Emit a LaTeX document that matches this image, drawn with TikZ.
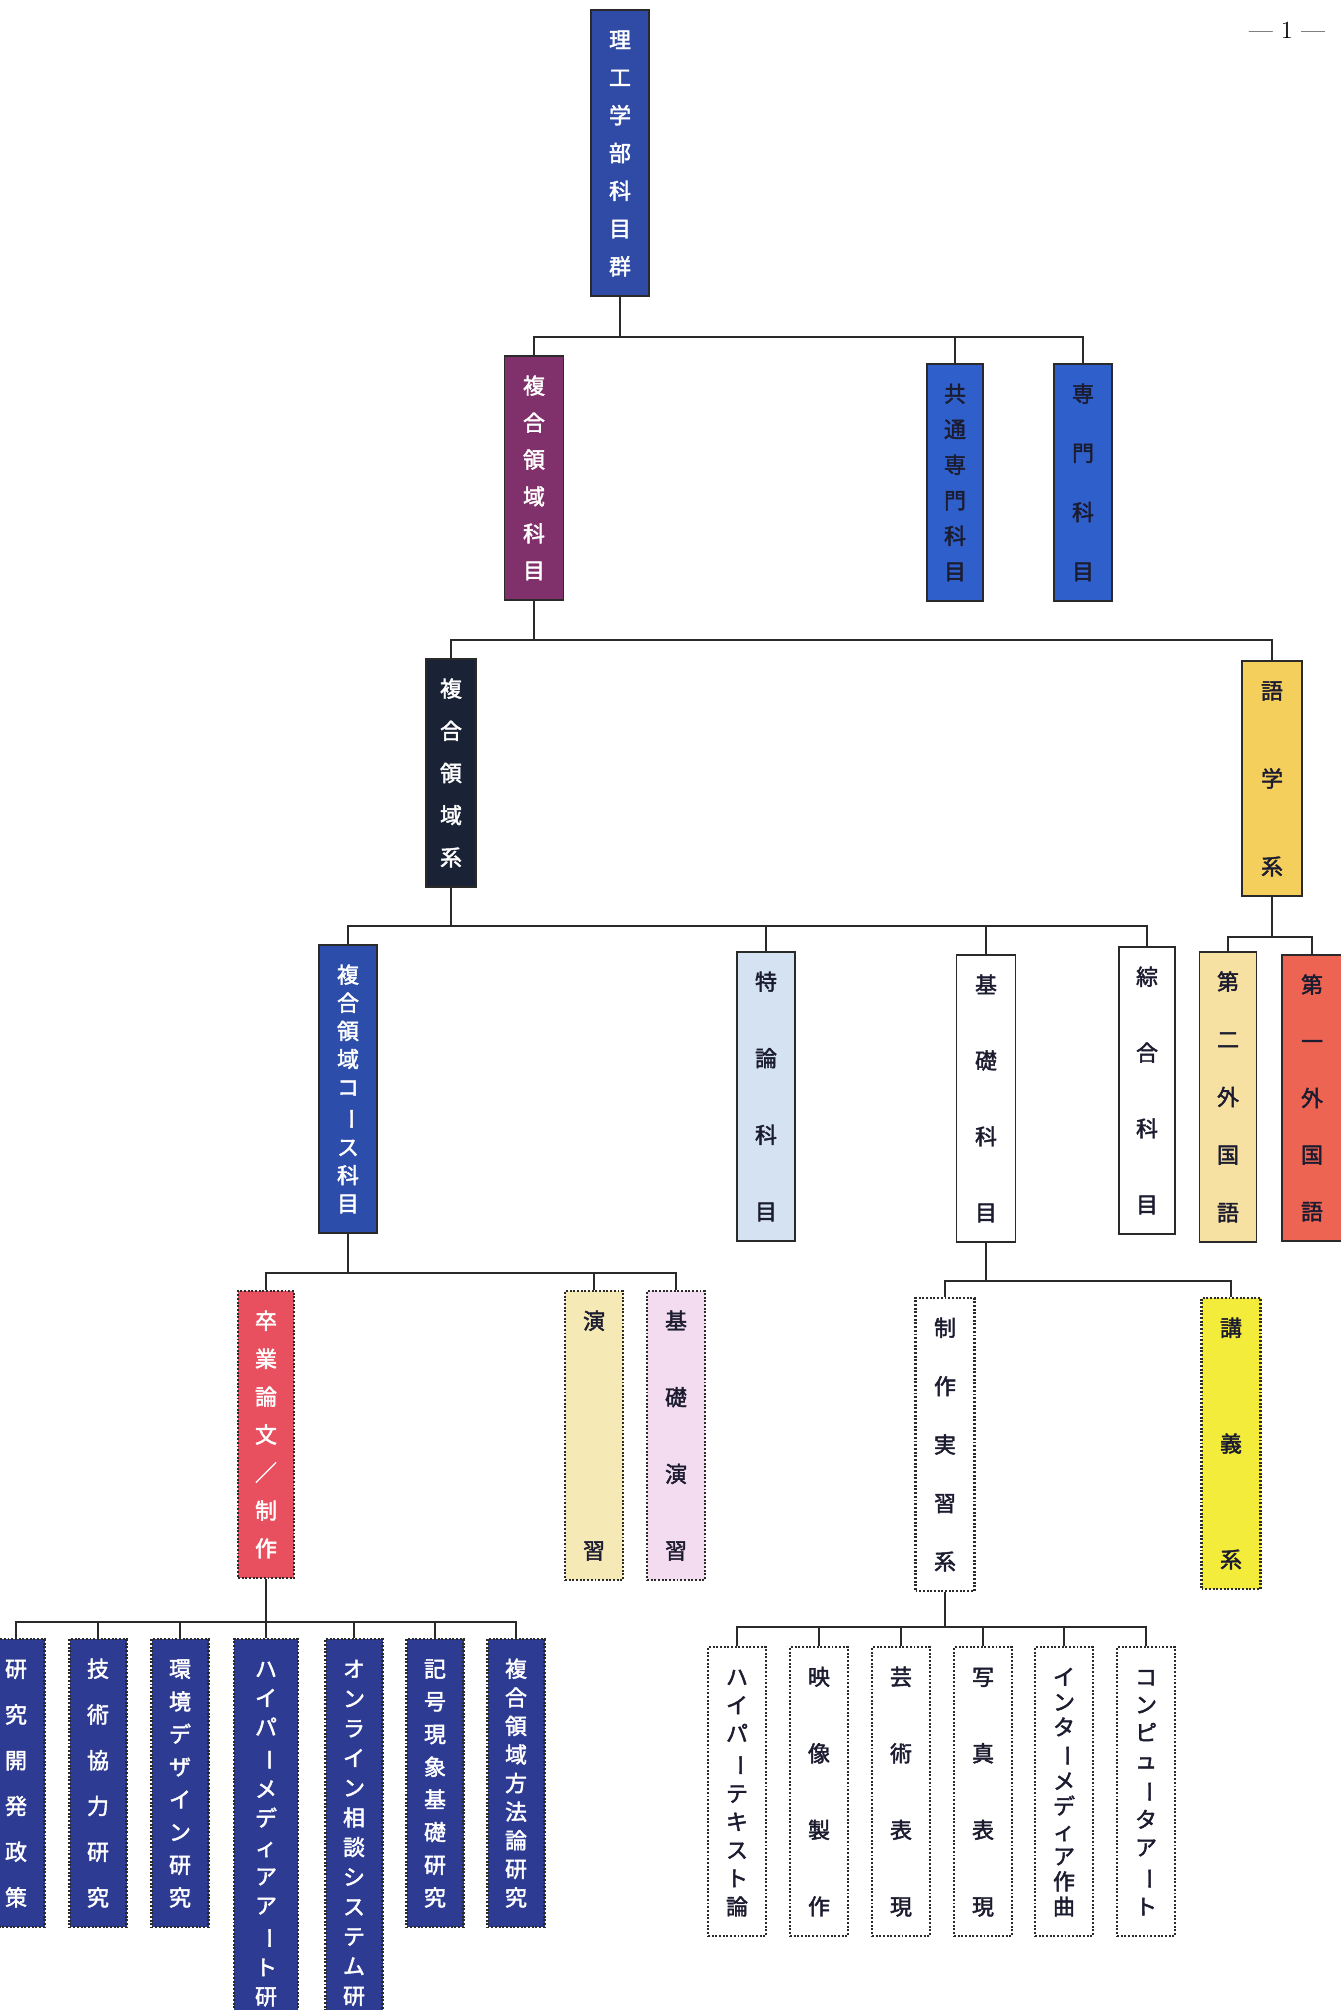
\documentclass[tikz,border=0pt]{standalone}
\usepackage{fontspec}
\usepackage{graphicx}
\usetikzlibrary{calc}
\newfontfamily\jp[FakeBold=2]{Noto Sans CJK JP}
\definecolor{rootblue}{HTML}{2F4BA6}
\definecolor{mauve}{HTML}{80306A}
\definecolor{midblue}{HTML}{2F5FCB}
\definecolor{nightblue}{HTML}{1A2236}
\definecolor{amber}{HTML}{F5CF5C}
\definecolor{courseblue}{HTML}{2C4DAA}
\definecolor{paleblue}{HTML}{D5E2F2}
\definecolor{cream}{HTML}{F7E1A2}
\definecolor{salmon}{HTML}{EE6453}
\definecolor{rosered}{HTML}{E8505F}
\definecolor{sand}{HTML}{F5E9B5}
\definecolor{blush}{HTML}{F3DCEF}
\definecolor{lemon}{HTML}{F3EC3A}
\definecolor{deepblue}{HTML}{2D3B93}
\definecolor{ink}{HTML}{1C1C30}
\definecolor{lineink}{HTML}{2A2A2A}
% one picture pixel, and the gap above the first glyph of a column
\newdimen\pxlen \pxlen=0.02cm
\newdimen\padlen \padlen=20\pxlen
% vertical column of upright glyphs, spread over the box
\newcommand\stackglyph[1]{\ifx#1ー\rotatebox[origin=c]{-90}{ー}\else#1\fi}
\def\stackchars#1#2\stackend{%
  \hbox to 1.2em{\vrule height .88em depth .12em width 0pt\hss\stackglyph{#1}\hss}%
  \ifx\relax#2\relax\else\vfill\stackchars#2\stackend\fi}
\newcommand\vstack[1]{\vbox to \dimexpr\cellh\pxlen-2\padlen\relax{\offinterlineskip\stackchars#1\stackend}}
\tikzset{
  cell/.style={rectangle, draw=lineink, line width=1.1pt, inner sep=0pt, anchor=north,
               minimum width=58*0.02cm, font=\jp\fontsize{12.5pt}{14pt}\selectfont},
  dotcell/.style={cell, densely dotted, line width=1.2pt},
  boxh/.code={\def\cellh{#1}\pgfkeysalso{minimum height=#1*0.02cm}},
  boxw/.style={minimum width=#1*0.02cm},
  link/.style={draw=lineink, line width=1.2pt},
  pagenum/.style={font=\fontsize{14pt}{16pt}\selectfont, text=black},
}

\begin{document}
\begin{tikzpicture}[x=0.02cm, y=-0.02cm]
\useasboundingbox (0,0) rectangle (1341,2010);
\clip (0,0) rectangle (1341,2010);
\fill[white] (0,0) rectangle (1341,2010);

% Page number
\node[pagenum] (pnum) at (1287,30) {— 1 —};

% Root
\node[cell, boxh=286, fill=rootblue, text=white] (root) at (620,9) {\vstack{理工学部科目群}};

% Level 1
\node[cell, boxh=244, boxw=59, fill=mauve, text=white] (fkamoku) at (534,355) {\vstack{複合領域科目}};
\node[cell, boxh=237, boxw=56, fill=midblue, text=ink] (kyotsu) at (955,363) {\vstack{共通専門科目}};
\node[cell, boxh=237, fill=midblue, text=ink] (senmon) at (1083,363) {\vstack{専門科目}};

% Level 2
\node[cell, boxh=228, boxw=50, fill=nightblue, text=white] (fkei) at (451,658) {\vstack{複合領域系}};
\node[cell, boxh=235, boxw=60, fill=amber, text=ink] (gogaku) at (1272,660) {\vstack{語学系}};

% Level 3: under the compound field
\node[cell, boxh=288, fill=courseblue, text=white] (course) at (348,944) {\vstack{複合領域コース科目}};
\node[cell, boxh=289, fill=paleblue, text=ink] (tokuron) at (766,951) {\vstack{特論科目}};
\node[cell, boxh=287, boxw=59, fill=white, text=ink] (kiso) at (986,954) {\vstack{基礎科目}};
\node[cell, boxh=287, boxw=56, fill=white, text=ink] (sogo) at (1147,946) {\vstack{綜合科目}};

% Level 3: under languages
\node[cell, boxh=290, boxw=57, fill=cream, text=ink] (dai2) at (1228,951) {\vstack{第二外国語}};
\node[cell, boxh=286, boxw=60, fill=salmon, text=ink] (dai1) at (1312,954) {\vstack{第一外国語}};

% Level 4 (dotted)
\node[dotcell, boxh=287, boxw=56, fill=rosered, text=white] (sotsu) at (266,1290) {\vstack{卒業論文／制作}};
\node[dotcell, boxh=289, fill=sand, text=ink] (enshu) at (594,1290) {\vstack{演習}};
\node[dotcell, boxh=289, fill=blush, text=ink] (kisoen) at (676,1290) {\vstack{基礎演習}};
\node[dotcell, boxh=293, boxw=59, fill=white, text=ink] (seisaku) at (945,1297) {\vstack{制作実習系}};
\node[dotcell, boxh=291, boxw=59, fill=lemon, text=ink] (kogi) at (1231,1297) {\vstack{講義系}};

% Leaves: theses
\node[dotcell, boxh=288, boxw=57, fill=deepblue, text=white] (thA) at (16,1638) {\vstack{研究開発政策}};
\node[dotcell, boxh=288, boxw=57, fill=deepblue, text=white] (thB) at (98,1638) {\vstack{技術協力研究}};
\node[dotcell, boxh=288, boxw=57, fill=deepblue, text=white] (thC) at (180,1638) {\vstack{環境デザイン研究}};
\node[dotcell, boxh=416, boxw=64, fill=deepblue, text=white] (thD) at (266,1638) {\vstack{ハイパーメディアアート研究}};
\node[dotcell, boxh=416, boxw=57, fill=deepblue, text=white] (thE) at (354,1638) {\vstack{オンライン相談システム研究}};
\node[dotcell, boxh=288, boxw=57, fill=deepblue, text=white] (thF) at (435,1638) {\vstack{記号現象基礎研究}};
\node[dotcell, boxh=288, boxw=57, fill=deepblue, text=white] (thG) at (516,1638) {\vstack{複合領域方法論研究}};

% Leaves: studio practice
\node[dotcell, boxh=289, fill=white, text=ink] (prA) at (737,1646) {\vstack{ハイパーテキスト論}};
\node[dotcell, boxh=289, fill=white, text=ink] (prB) at (819,1646) {\vstack{映像製作}};
\node[dotcell, boxh=289, fill=white, text=ink] (prC) at (901,1646) {\vstack{芸術表現}};
\node[dotcell, boxh=289, fill=white, text=ink] (prD) at (983,1646) {\vstack{写真表現}};
\node[dotcell, boxh=289, fill=white, text=ink] (prE) at (1064,1646) {\vstack{インターメディア作曲}};
\node[dotcell, boxh=289, fill=white, text=ink] (prF) at (1146,1646) {\vstack{コンピュータアート}};

% Bus lines
\coordinate (bus1) at (0,337);
\coordinate (bus2) at (0,640);
\coordinate (bus3) at (0,926);
\coordinate (bus3b) at (0,937);
\coordinate (bus4) at (0,1273);
\coordinate (bus4b) at (0,1281);
\coordinate (bus5) at (0,1622);
\coordinate (bus5b) at (0,1627);

% Tree
\draw[link] (root.south) -- (root.south |- bus1);
\draw[link] (root.south |- bus1) -| (fkamoku.north);
\draw[link] (root.south |- bus1) -| (kyotsu.north);
\draw[link] (root.south |- bus1) -| (senmon.north);

\draw[link] (fkamoku.south) -- (fkamoku.south |- bus2);
\draw[link] (fkamoku.south |- bus2) -| (fkei.north);
\draw[link] (fkamoku.south |- bus2) -| (gogaku.north);

\draw[link] (fkei.south) -- (fkei.south |- bus3);
\draw[link] (fkei.south |- bus3) -| (course.north);
\draw[link] (fkei.south |- bus3) -| (tokuron.north);
\draw[link] (fkei.south |- bus3) -| (kiso.north);
\draw[link] (fkei.south |- bus3) -| (sogo.north);

\draw[link] (gogaku.south) -- (gogaku.south |- bus3b);
\draw[link] (gogaku.south |- bus3b) -| (dai2.north);
\draw[link] (gogaku.south |- bus3b) -| (dai1.north);

\draw[link] (course.south) -- (course.south |- bus4);
\draw[link] (course.south |- bus4) -| (sotsu.north);
\draw[link] (course.south |- bus4) -| (enshu.north);
\draw[link] (course.south |- bus4) -| (kisoen.north);

\draw[link] (kiso.south) -- (kiso.south |- bus4b);
\draw[link] (kiso.south |- bus4b) -| (seisaku.north);
\draw[link] (kiso.south |- bus4b) -| (kogi.north);

\draw[link] (sotsu.south) -- (sotsu.south |- bus5);
\draw[link] (sotsu.south |- bus5) -| (thA.north);
\draw[link] (sotsu.south |- bus5) -| (thB.north);
\draw[link] (sotsu.south |- bus5) -| (thC.north);
\draw[link] (sotsu.south |- bus5) -| (thD.north);
\draw[link] (sotsu.south |- bus5) -| (thE.north);
\draw[link] (sotsu.south |- bus5) -| (thF.north);
\draw[link] (sotsu.south |- bus5) -| (thG.north);

\draw[link] (seisaku.south) -- (seisaku.south |- bus5b);
\draw[link] (seisaku.south |- bus5b) -| (prA.north);
\draw[link] (seisaku.south |- bus5b) -| (prB.north);
\draw[link] (seisaku.south |- bus5b) -| (prC.north);
\draw[link] (seisaku.south |- bus5b) -| (prD.north);
\draw[link] (seisaku.south |- bus5b) -| (prE.north);
\draw[link] (seisaku.south |- bus5b) -| (prF.north);

\end{tikzpicture}
\end{document}
